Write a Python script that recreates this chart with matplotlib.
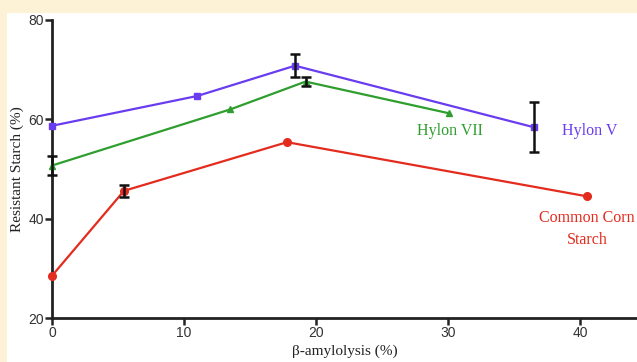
import numpy as np
import matplotlib.pyplot as plt
from matplotlib.patches import Rectangle

# data
hv_x = [0, 11, 18.4, 36.5]
hv_y = [58.7, 64.7, 70.8, 58.4]
hv_err = [0, 0, 2.3, 5.0]

h7_x = [0, 13.5, 19.2, 30.1]
h7_y = [50.7, 62.0, 67.6, 61.2]
h7_err = [2.0, 0, 0.9, 0]

cc_x = [0, 5.45, 17.8, 40.5]
cc_y = [28.5, 45.6, 55.4, 44.5]
cc_err = [0, 1.2, 0, 0]

purple = '#6a3cf0'
green = '#2f9e2f'
red = '#e32b1e'
serif = 'Liberation Serif'
sans = 'Liberation Sans'

fig = plt.figure(figsize=(6.37, 3.62), dpi=100)
fig.patch.set_facecolor('#fdf2d5')
fig.patches.append(Rectangle((7/637, 0), 1, 1 - 13/362, transform=fig.transFigure,
                             facecolor='white', edgecolor='none', zorder=-10))

ax = fig.add_axes([52/637, 44/362, 1 - 52/637, 298/362])
ax.patch.set_alpha(0)

def series(x, y, e, c, m, ms):
    ax.plot(x, y, color=c, lw=1.6, marker=m, ms=ms, zorder=3, clip_on=False)
    xe = [a for a, b in zip(x, e) if b > 0]
    ye = [a for a, b in zip(y, e) if b > 0]
    ee = [b for b in e if b > 0]
    ax.errorbar(xe, ye, yerr=ee, fmt='none', ecolor='#111111', elinewidth=1.8,
                capsize=3.5, capthick=1.8, zorder=4, clip_on=False)

series(hv_x, hv_y, hv_err, purple, 's', 5)
series(h7_x, h7_y, h7_err, green, '^', 5)
series(cc_x, cc_y, cc_err, red, 'o', 5.5)

ax.text(30.1, 57.6, 'Hylon VII', color=green, family=serif, fontsize=11.5, ha='center', va='center')
ax.text(40.7, 57.6, 'Hylon V', color=purple, family=serif, fontsize=11.5, ha='center', va='center')
ax.text(40.5, 38.0, 'Common Corn\nStarch', color=red, family=serif, fontsize=11.5,
        ha='center', va='center', linespacing=1.5)

ax.set_xlim(0, 44.3)
ax.set_ylim(20, 80)
ax.set_xticks([0, 10, 20, 30, 40])
ax.set_yticks([20, 40, 60, 80])
for s in ['top', 'right']:
    ax.spines[s].set_visible(False)
for s in ['left', 'bottom']:
    ax.spines[s].set_linewidth(2)
    ax.spines[s].set_color('#222222')
ax.tick_params(width=1.8, length=5, labelsize=10, pad=1, color='#222222', labelcolor='#333333')
for lab in ax.get_xticklabels() + ax.get_yticklabels():
    lab.set_family(sans)
ax.set_xlabel('β-amylolysis (%)', family=serif, fontsize=11, labelpad=3, color='#222222')
ax.set_ylabel('Resistant Starch (%)', family=serif, fontsize=11, labelpad=3, color='#222222')

fig.savefig('out.png', dpi=100)
